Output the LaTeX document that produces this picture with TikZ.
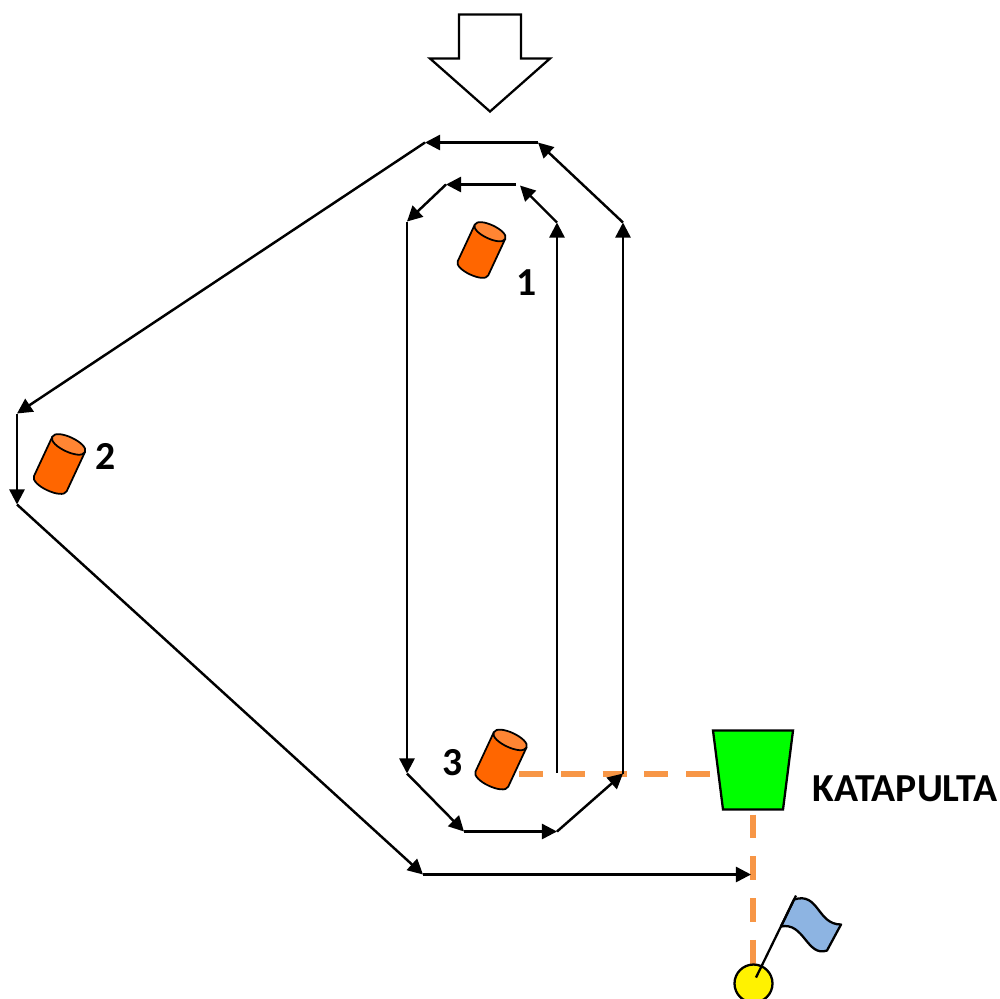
\documentclass[tikz,border=0pt]{standalone}
\usepackage{fontspec}
\setmainfont{Carlito}
\usetikzlibrary{arrows.meta}

\definecolor{barrelbody}{HTML}{FF6600}
\definecolor{barreltop}{HTML}{FF8533}
\definecolor{dashorange}{HTML}{F79646}
\definecolor{flagblue}{HTML}{8DB4E2}

\tikzset{
    track/.style={line width=1.4pt, -{Triangle[length=8.6pt,width=8.6pt]}},
    throwline/.style={line width=3.4pt, dashorange, dash pattern=on 13.6pt off 10.2pt},
    numlabel/.style={font=\bfseries\fontsize{22.6pt}{25pt}\selectfont, inner sep=0pt},
    barrel/.pic={
        \draw[line width=1pt, fill=barrelbody, line join=round]
            (-17.5,-21) -- (-17.5,21) .. controls (-17.5,30.5) and (17.5,30.5) .. (17.5,21)
            -- (17.5,-21) -- cycle;
        \draw[line width=1pt, fill=barreltop]
            (-17.5,-21) .. controls (-17.5,-30.5) and (17.5,-30.5) .. (17.5,-21)
            .. controls (17.5,-11.5) and (-17.5,-11.5) .. (-17.5,-21) -- cycle;
    }
}

\begin{document}
\begin{tikzpicture}[x=0.02cm, y=-0.02cm]

    \useasboundingbox (0, -0.5) rectangle (1000, 997.5);

    % outer track
    \coordinate (o1) at (623, 773);
    \coordinate (o2) at (623, 222);
    \coordinate (o3) at (538, 142);
    \coordinate (o4) at (425, 142);
    \coordinate (o5) at (17, 413);
    \coordinate (o6) at (17, 504);
    \coordinate (o7) at (423, 874);
    \coordinate (o8) at (751, 874);

    % inner track
    \coordinate (i1) at (557, 772);
    \coordinate (i2) at (557, 222);
    \coordinate (i3) at (520, 185);
    \coordinate (i4) at (516, 184);
    \coordinate (i5) at (446, 184);
    \coordinate (i6) at (407, 221);
    \coordinate (i7) at (407, 773);
    \coordinate (i8) at (464, 831);
    \coordinate (i9) at (557, 831);

    % orange lines
    \coordinate (d1) at (519, 773.5);
    \coordinate (d2) at (712, 773.5);
    \coordinate (d3) at (753, 814);
    \coordinate (d4) at (753, 966);

    \draw[throwline] (d1) -- (d2);
    \draw[throwline] (d3) -- (d4);

    \draw[line width=1.3pt, fill=green, line join=miter] (713, 730) -- (793, 730)
        -- (783, 809) -- (723, 809) -- cycle;
    \node[circle, draw, fill=yellow, line width=1.3pt, minimum size=0.76cm, inner sep=0pt]
        (ball) at (753.5, 983) {};

    \foreach \from/\to in {o1/o2, o2/o3, o3/o4, o4/o5, o5/o6, o6/o7, o7/o8,
        i1/i2, i2/i3, i4/i5, i5/i6, i6/i7, i7/i8, i8/i9, i9/o1}
        \draw[track] (\from) -- (\to);

    % big arrow at the top
    \draw[line width=1.3pt, fill=white] (459, 14) -- (521, 14) -- (521, 58) -- (550, 58)
        -- (490, 111) -- (430, 58) -- (459, 58) -- cycle;

    \pic[rotate=-25, scale=0.96] at (481.5, 249.5) {barrel};
    \pic[rotate=-25, scale=1.03] at (59.5, 463.5) {barrel};
    \pic[rotate=-25, scale=1.03] at (501, 759) {barrel};

    \node[numlabel] (one) at (527, 282) {1};
    \node[numlabel] (two) at (106, 456) {2};
    \node[numlabel] (three) at (452.5, 762) {3};
    \node[numlabel] (name) at (905, 788) {KATAPULTA};

    % flag
    \draw[line width=1.3pt, fill=flagblue, line join=round] (794, 899)
        .. controls (819, 891) and (817, 924) .. (841, 924)
        -- (827, 950)
        .. controls (807, 957) and (804, 921) .. (781, 926) -- cycle;
    \draw[line width=1.3pt] (756, 977) -- (796, 895);

\end{tikzpicture}
\end{document}
